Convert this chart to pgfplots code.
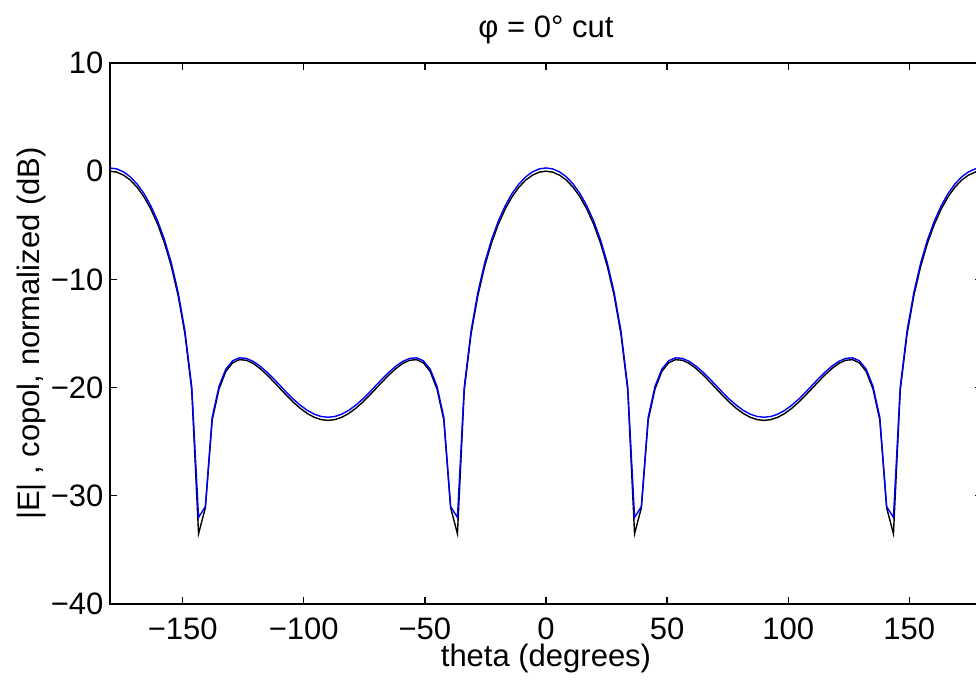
\documentclass[border=0pt]{standalone}
\usepackage{fontspec}
\setmainfont{Liberation Sans}
\usepackage{pgfplots}
\usepackage{pgfplotstable}
\pgfplotsset{compat=1.18}
\pgfplotstableread{
x b c
-180 0.00 0.30
-177.1875 -0.09 0.21
-174.375 -0.37 -0.07
-171.5625 -0.83 -0.53
-168.75 -1.50 -1.20
-165.9375 -2.38 -2.08
-163.125 -3.51 -3.21
-160.3125 -4.91 -4.61
-157.5 -6.64 -6.34
-154.6875 -8.78 -8.48
-151.875 -11.49 -11.19
-149.0625 -15.05 -14.75
-146.25 -20.24 -19.94
-143.4375 -33.50 -32.00
-140.625 -31.10 -31.00
-137.8125 -23.00 -22.75
-135 -20.13 -19.88
-132.1875 -18.51 -18.30
-129.375 -17.71 -17.52
-126.5625 -17.42 -17.25
-123.75 -17.47 -17.30
-120.9375 -17.76 -17.57
-118.125 -18.22 -18.00
-115.3125 -18.80 -18.55
-112.5 -19.44 -19.17
-109.6875 -20.11 -19.83
-106.875 -20.78 -20.50
-104.0625 -21.40 -21.12
-101.25 -21.95 -21.66
-98.4375 -22.41 -22.12
-95.625 -22.75 -22.46
-92.8125 -22.96 -22.67
-90 -23.03 -22.74
-87.1875 -22.96 -22.67
-84.375 -22.75 -22.46
-81.5625 -22.41 -22.12
-78.75 -21.95 -21.66
-75.9375 -21.40 -21.12
-73.125 -20.78 -20.50
-70.3125 -20.11 -19.83
-67.5 -19.44 -19.17
-64.6875 -18.80 -18.55
-61.875 -18.22 -18.00
-59.0625 -17.76 -17.57
-56.25 -17.47 -17.30
-53.4375 -17.42 -17.25
-50.625 -17.71 -17.52
-47.8125 -18.51 -18.30
-45 -20.13 -19.88
-42.1875 -23.00 -22.75
-39.375 -31.10 -31.00
-36.5625 -33.50 -32.00
-33.75 -20.24 -19.94
-30.9375 -15.05 -14.75
-28.125 -11.49 -11.19
-25.3125 -8.78 -8.48
-22.5 -6.64 -6.34
-19.6875 -4.91 -4.61
-16.875 -3.51 -3.21
-14.0625 -2.38 -2.08
-11.25 -1.50 -1.20
-8.4375 -0.83 -0.53
-5.625 -0.37 -0.07
-2.8125 -0.09 0.21
0 0.00 0.30
2.8125 -0.09 0.21
5.625 -0.37 -0.07
8.4375 -0.83 -0.53
11.25 -1.50 -1.20
14.0625 -2.38 -2.08
16.875 -3.51 -3.21
19.6875 -4.91 -4.61
22.5 -6.64 -6.34
25.3125 -8.78 -8.48
28.125 -11.49 -11.19
30.9375 -15.05 -14.75
33.75 -20.24 -19.94
36.5625 -33.50 -32.00
39.375 -31.10 -31.00
42.1875 -23.00 -22.75
45 -20.13 -19.88
47.8125 -18.51 -18.30
50.625 -17.71 -17.52
53.4375 -17.42 -17.25
56.25 -17.47 -17.30
59.0625 -17.76 -17.57
61.875 -18.22 -18.00
64.6875 -18.80 -18.55
67.5 -19.44 -19.17
70.3125 -20.11 -19.83
73.125 -20.78 -20.50
75.9375 -21.40 -21.12
78.75 -21.95 -21.66
81.5625 -22.41 -22.12
84.375 -22.75 -22.46
87.1875 -22.96 -22.67
90 -23.03 -22.74
92.8125 -22.96 -22.67
95.625 -22.75 -22.46
98.4375 -22.41 -22.12
101.25 -21.95 -21.66
104.0625 -21.40 -21.12
106.875 -20.78 -20.50
109.6875 -20.11 -19.83
112.5 -19.44 -19.17
115.3125 -18.80 -18.55
118.125 -18.22 -18.00
120.9375 -17.76 -17.57
123.75 -17.47 -17.30
126.5625 -17.42 -17.25
129.375 -17.71 -17.52
132.1875 -18.51 -18.30
135 -20.13 -19.88
137.8125 -23.00 -22.75
140.625 -31.10 -31.00
143.4375 -33.50 -32.00
146.25 -20.24 -19.94
149.0625 -15.05 -14.75
151.875 -11.49 -11.19
154.6875 -8.78 -8.48
157.5 -6.64 -6.34
160.3125 -4.91 -4.61
163.125 -3.51 -3.21
165.9375 -2.38 -2.08
168.75 -1.50 -1.20
171.5625 -0.83 -0.53
174.375 -0.37 -0.07
177.1875 -0.09 0.21
180 0.00 0.30
}\datatable
\begin{document}
\fontsize{9.92}{12}\selectfont
\begin{tikzpicture}
\begin{axis}[
  at={(0,0)}, anchor=south west,
  scale only axis,
  width=279.04pt, height=173.12pt,
  xmin=-180, xmax=180, ymin=-40, ymax=10,
  xtick={-150,-100,-50,0,50,100,150},
  xticklabels={−150,−100,−50,0,50,100,150},
  ytick={-40,-30,-20,-10,0,10},
  yticklabels={−40,−30,−20,−10,0,10},
  tick align=inside,
  major tick length=2.3pt,
  tick style={line width=0.4pt, black},
  axis line style={line width=0.42pt, black},
  every tick label/.append style={font=\fontsize{9.92}{12}\selectfont},
  xticklabel style={inner sep=0pt, anchor=north, yshift=-4.2pt},
  yticklabel style={inner sep=0pt, anchor=east, xshift=-1.9pt},
  xlabel={theta (degrees)},
  ylabel={|E| , copol, normalized (dB)},
  label style={font=\fontsize{9.92}{12}\selectfont},
  xlabel style={at={(axis description cs:0.5,-0.1)}, anchor=center, inner sep=0pt},
  ylabel style={at={(axis description cs:-0.0894,0.5)}, anchor=center, inner sep=0pt},
]
\addplot[black, line width=0.45pt] table[x=x, y=b] {\datatable};
\addplot[blue, line width=0.45pt] table[x=x, y=c] {\datatable};
\end{axis}
\node[font=\fontsize{9.92}{12}\selectfont, anchor=center, inner sep=0pt] at (139.52pt,183.68pt) {φ = 0° cut};
\pgfresetboundingbox
\useasboundingbox (-35.2pt,-25.6pt) rectangle (277.12pt,193.28pt);
\end{tikzpicture}
\end{document}
